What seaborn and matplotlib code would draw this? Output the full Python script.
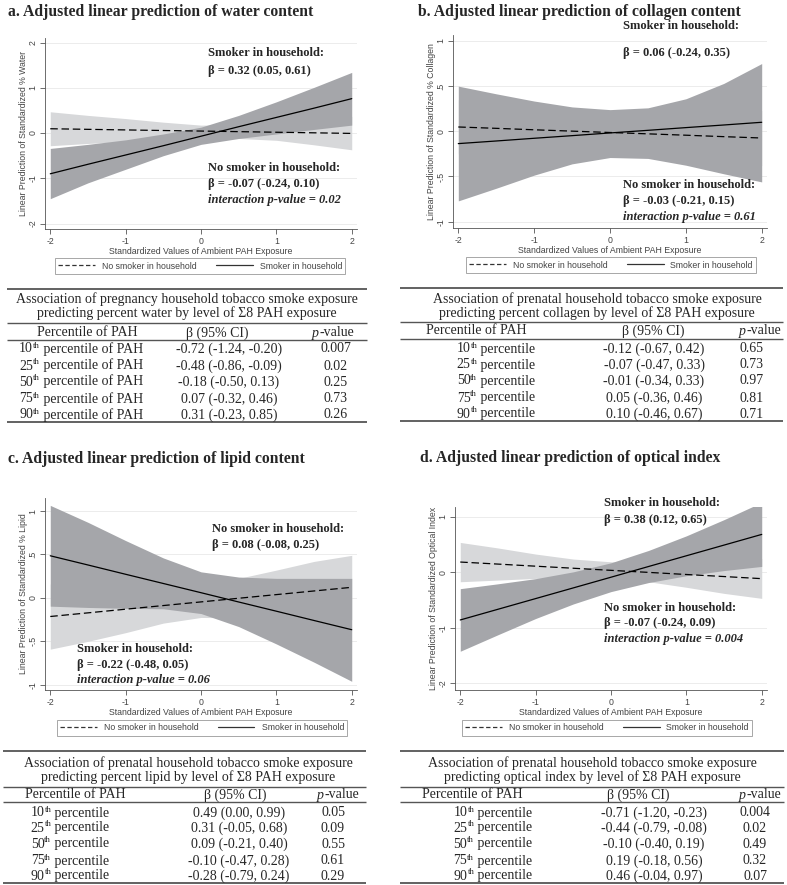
import matplotlib
matplotlib.use("Agg")
import pandas as pd
import matplotlib.pyplot as plt
from matplotlib.lines import Line2D
import seaborn as sns

sns.set_theme(style="ticks")
plt.rcParams["font.family"] = ["Liberation Serif", "DejaVu Serif"]

W, H = 787, 885

pah = [-2, -1.5, -1, -0.5, 0, 0.5, 1, 1.5, 2]

# a. water
water_nosmk = [0.095, 0.082, 0.069, 0.056, 0.044, 0.031, 0.018, 0.005, -0.008]
water_nosmk_lo = [-0.28, -0.23, -0.19, -0.14, -0.12, -0.12, -0.16, -0.26, -0.37]
water_nosmk_hi = [0.47, 0.39, 0.32, 0.24, 0.175, 0.18, 0.22, 0.29, 0.37]
water_smk = [-0.90, -0.69, -0.485, -0.28, -0.07, 0.14, 0.345, 0.55, 0.76]
water_smk_lo = [-1.45, -1.10, -0.80, -0.50, -0.25, -0.12, -0.02, 0.08, 0.175]
water_smk_hi = [-0.34, -0.25, -0.15, -0.02, 0.13, 0.39, 0.69, 1.01, 1.34]

# b. collagen
coll_nosmk = [0.048, 0.033, 0.017, 0.002, -0.013, -0.028, -0.043, -0.059, -0.074]
coll_nosmk_lo = [-0.25, -0.19, -0.15, -0.12, -0.11, -0.13, -0.19, -0.29, -0.38]
coll_nosmk_hi = [0.35, 0.26, 0.19, 0.12, 0.09, 0.07, 0.11, 0.17, 0.23]
coll_smk = [-0.136, -0.107, -0.077, -0.048, -0.018, 0.011, 0.041, 0.070, 0.10]
coll_smk_lo = [-0.77, -0.63, -0.485, -0.36, -0.29, -0.30, -0.375, -0.47, -0.56]
coll_smk_hi = [0.50, 0.415, 0.335, 0.27, 0.24, 0.26, 0.36, 0.53, 0.75]

# c. lipid
lip_nosmk = [-0.214, -0.172, -0.13, -0.088, -0.046, -0.004, 0.038, 0.08, 0.122]
lip_nosmk_lo = [-0.59, -0.50, -0.40, -0.29, -0.225, -0.23, -0.24, -0.26, -0.25]
lip_nosmk_hi = [0.16, 0.16, 0.14, 0.11, 0.13, 0.225, 0.32, 0.42, 0.49]
lip_smk = [0.485, 0.379, 0.272, 0.166, 0.06, -0.047, -0.153, -0.26, -0.366]
lip_smk_lo = [-0.095, -0.11, -0.12, -0.125, -0.18, -0.33, -0.53, -0.74, -0.96]
lip_smk_hi = [1.065, 0.87, 0.66, 0.46, 0.30, 0.24, 0.225, 0.225, 0.225]

# d. optical index
opt_nosmk = [0.186, 0.149, 0.111, 0.074, 0.036, -0.001, -0.039, -0.076, -0.114]
opt_nosmk_lo = [-0.17, -0.14, -0.11, -0.10, -0.11, -0.17, -0.27, -0.38, -0.47]
opt_nosmk_hi = [0.54, 0.44, 0.33, 0.24, 0.19, 0.17, 0.19, 0.22, 0.25]
opt_smk = [-0.86, -0.667, -0.474, -0.281, -0.088, 0.106, 0.299, 0.492, 0.685]
opt_smk_lo = [-1.425, -1.127, -0.834, -0.571, -0.348, -0.184, -0.061, 0.032, 0.107]
opt_smk_hi = [-0.295, -0.207, -0.114, 0.009, 0.172, 0.396, 0.659, 0.952, 1.263]

# tables
pct = ["10", "25", "50", "75", "90"]
water_beta = ["-0.72 (-1.24, -0.20)", "-0.48 (-0.86, -0.09)", "-0.18 (-0.50, 0.13)",
              "0.07 (-0.32, 0.46)", "0.31 (-0.23, 0.85)"]
water_p = ["0.007", "0.02", "0.25", "0.73", "0.26"]
coll_beta = ["-0.12 (-0.67, 0.42)", "-0.07 (-0.47, 0.33)", "-0.01 (-0.34, 0.33)",
             "0.05 (-0.36, 0.46)", "0.10 (-0.46, 0.67)"]
coll_p = ["0.65", "0.73", "0.97", "0.81", "0.71"]
lip_beta = ["0.49 (0.00, 0.99)", "0.31 (-0.05, 0.68)", "0.09 (-0.21, 0.40)",
            "-0.10 (-0.47, 0.28)", "-0.28 (-0.79, 0.24)"]
lip_p = ["0.05", "0.09", "0.55", "0.61", "0.29"]
opt_beta = ["-0.71 (-1.20, -0.23)", "-0.44 (-0.79, -0.08)", "-0.10 (-0.40, 0.19)",
            "0.19 (-0.18, 0.56)", "0.46 (-0.04, 0.97)"]
opt_p = ["0.004", "0.02", "0.49", "0.32", "0.07"]

NOSMK = "No smoker in household"
SMK = "Smoker in household"
DARK = "#a5a6aa"
LIGHT = "#d7d8da"
AXC = "#555555"
TXC = "#444444"
SANS = "Liberation Sans"
TFS = 10  # table font size


def fx(x):
    return x / W


def fy(y):
    return 1 - y / H


def draw_plot(fig, rect, nosmk, nosmk_lo, nosmk_hi, smk, smk_lo, smk_hi,
              ylim, yticks, ylabels, ylabel, notes, legend_xy):
    l, t, r, b = rect
    ax = fig.add_axes([fx(l), fy(b), (r - l) / W, (b - t) / H])
    df = pd.DataFrame({
        "pah": pah + pah,
        "pred": nosmk + smk,
        "group": [NOSMK] * len(pah) + [SMK] * len(pah),
    })
    ax.fill_between(pah, nosmk_lo, nosmk_hi, color=LIGHT, lw=0, zorder=1)
    ax.fill_between(pah, smk_lo, smk_hi, color=DARK, lw=0, zorder=2)
    sns.lineplot(data=df, x="pah", y="pred", style="group", style_order=[NOSMK, SMK],
                 dashes={NOSMK: (6, 3), SMK: ""}, color="black", lw=0.9,
                 legend=False, ax=ax, zorder=3)
    ax.set_xlim(-2.07, 2.07)
    ax.set_ylim(*ylim)
    ax.set_xticks([-2, -1, 0, 1, 2], ["-2", "-1", "0", "1", "2"],
                  fontfamily=SANS, fontsize=6.3, color=TXC)
    ax.set_yticks(yticks, ylabels, fontfamily=SANS, fontsize=6.3, color=TXC,
                  rotation=90, va="center")
    ax.yaxis.grid(True, color="#ececec", lw=0.7)
    ax.set_axisbelow(True)
    sns.despine(ax=ax)
    for s in ["left", "bottom"]:
        ax.spines[s].set_color(AXC)
        ax.spines[s].set_linewidth(0.6)
    ax.tick_params(direction="out", length=3.5, width=0.6, color=AXC, pad=2)
    ax.set_xlabel("Standardized Values of Ambient PAH Exposure", fontfamily=SANS,
                  fontsize=6.3, color=TXC, labelpad=1)
    ax.set_ylabel(ylabel, fontfamily=SANS, fontsize=6.3, color=TXC, labelpad=0.5)

    for x, y, s, it in notes:
        ax.text(x, y, s, fontsize=9, fontweight="bold", style="italic" if it else "normal",
                ha="left", va="center", clip_on=False, zorder=5)

    handles = [Line2D([], [], color="#333333", lw=0.9, dashes=(3.5, 2)),
               Line2D([], [], color="#333333", lw=0.9)]
    leg = ax.legend(handles, [NOSMK, SMK], loc="center",
                    bbox_to_anchor=(fx(legend_xy[0]), fy(legend_xy[1])),
                    bbox_transform=fig.transFigure, ncol=2, frameon=True, fancybox=False,
                    edgecolor="#999999", framealpha=1, prop={"family": SANS, "size": 6.3},
                    handlelength=4.2, handletextpad=0.8, columnspacing=2.2,
                    borderpad=0.35, labelcolor=TXC)
    leg.get_frame().set_linewidth(0.6)
    return ax


def centered_pieces(ov, rend, xc, y, pieces):
    # pieces: (text, fontsize, style, dy); laid out left to right, centred on xc
    texts = [ov.text(0, y + dy, s, fontsize=fs, style=st, ha="left", va="baseline")
             for s, fs, st, dy in pieces]
    widths = [t.get_window_extent(rend).width for t in texts]
    x = xc - sum(widths) / 2
    for t, w in zip(texts, widths):
        t.set_x(x)
        x += w


def draw_table(ov, rend, x0, x1, rules, head_x, head_ys, head_lines, colhead_y,
               colhead_x, row_ys, row_x, suffix, betas, pvals):
    bl = 4.5  # centre line -> baseline
    for i, y in enumerate(rules):
        lw = 1.3 if i in (0, len(rules) - 1) else 1.0
        ov.plot([x0, x1], [y, y], color="#555555", lw=lw, solid_capstyle="butt")
    for y, s in zip(head_ys, head_lines):
        ov.text(head_x, y + bl, s, fontsize=TFS, ha="center", va="baseline")
    ov.text(colhead_x[0], colhead_y + bl, "Percentile of PAH", fontsize=TFS,
            ha="center", va="baseline")
    ov.text(colhead_x[1], colhead_y + bl, "β (95% CI)", fontsize=TFS,
            ha="center", va="baseline")
    centered_pieces(ov, rend, colhead_x[2], colhead_y + bl,
                    [("p", TFS, "italic", 0), ("-value", TFS, "normal", 0)])
    for y, p, b, pv in zip(row_ys, pct, betas, pvals):
        centered_pieces(ov, rend, row_x[0], y + bl,
                        [(p, TFS, "normal", 0), ("th", 6.3, "normal", -5),
                         (" percentile" + suffix, TFS, "normal", 0)])
        ov.text(row_x[1], y + bl, b, fontsize=TFS, ha="center", va="baseline")
        ov.text(row_x[2], y + bl, pv, fontsize=TFS, ha="center", va="baseline")


fig = plt.figure(figsize=(W / 100, H / 100), dpi=100)
fig.patch.set_facecolor("white")
rend = fig.canvas.get_renderer()

draw_plot(fig, (45, 38, 357, 229), water_nosmk, water_nosmk_lo, water_nosmk_hi,
          water_smk, water_smk_lo, water_smk_hi, (-2.12, 2.10), [-2, -1, 0, 1, 2],
          ["-2", "-1", "0", "1", "2"], "Linear Prediction of Standardized % Water",
          [(0.09, 1.77, "Smoker in household:", False),
           (0.09, 1.37, "β = 0.32 (0.05, 0.61)", False),
           (0.09, -0.78, "No smoker in household:", False),
           (0.09, -1.13, "β = -0.07 (-0.24, 0.10)", False),
           (0.09, -1.48, "interaction p-value = 0.02", True)], (200, 266))

draw_plot(fig, (453, 35, 767, 228), coll_nosmk, coll_nosmk_lo, coll_nosmk_hi,
          coll_smk, coll_smk_lo, coll_smk_hi, (-1.07, 1.066), [-1, -0.5, 0, 0.5, 1],
          ["-1", "-.5", "0", ".5", "1"], "Linear Prediction of Standardized % Collagen",
          [(0.17, 1.17, "Smoker in household:", False),
           (0.17, 0.87, "β = 0.06 (-0.24, 0.35)", False),
           (0.17, -0.59, "No smoker in household:", False),
           (0.17, -0.77, "β = -0.03 (-0.21, 0.15)", False),
           (0.17, -0.95, "interaction p-value = 0.61", True)], (611, 265))

draw_plot(fig, (45, 498, 357, 690), lip_nosmk, lip_nosmk_lo, lip_nosmk_hi,
          lip_smk, lip_smk_lo, lip_smk_hi, (-1.06, 1.15), [-1, -0.5, 0, 0.5, 1],
          ["-1", "-.5", "0", ".5", "1"], "Linear Prediction of Standardized % Lipid",
          [(0.15, 0.79, "No smoker in household:", False),
           (0.15, 0.61, "β = 0.08 (-0.08, 0.25)", False),
           (-1.64, -0.59, "Smoker in household:", False),
           (-1.64, -0.77, "β = -0.22 (-0.48, 0.05)", False),
           (-1.64, -0.94, "interaction p-value = 0.06", True)], (202, 728))

draw_plot(fig, (455, 507, 767, 690), opt_nosmk, opt_nosmk_lo, opt_nosmk_hi,
          opt_smk, opt_smk_lo, opt_smk_hi, (-2.125, 1.18), [-2, -1, 0, 1],
          ["-2", "-1", "0", "1"], "Linear Prediction of Standardized Optical Index",
          [(-0.09, 1.26, "Smoker in household:", False),
           (-0.09, 0.95, "β = 0.38 (0.12, 0.65)", False),
           (-0.09, -0.64, "No smoker in household:", False),
           (-0.09, -0.91, "β = -0.07 (-0.24, 0.09)", False),
           (-0.09, -1.20, "interaction p-value = 0.004", True)], (607, 728))

# overlay in pixel coordinates for titles and tables
ov = fig.add_axes([0, 0, 1, 1])
ov.set_xlim(0, W)
ov.set_ylim(H, 0)
ov.axis("off")

ov.text(8, 12, "a. Adjusted linear prediction of water content", fontsize=11.3,
        fontweight="bold", ha="left", va="center")
ov.text(418, 12, "b. Adjusted linear prediction of collagen content", fontsize=11.3,
        fontweight="bold", ha="left", va="center")
ov.text(8, 459, "c. Adjusted linear prediction of lipid content", fontsize=11.3,
        fontweight="bold", ha="left", va="center")
ov.text(420, 458, "d. Adjusted linear prediction of optical index", fontsize=11.3,
        fontweight="bold", ha="left", va="center")

draw_table(ov, rend, 7, 367, [289, 323, 340, 422], 187, [299, 313],
           ["Association of pregnancy household tobacco smoke exposure",
            "predicting percent water by level of Σ8 PAH exposure"],
           332, [87, 217, 333], [348, 365, 381, 398, 414], [81, 229, 336],
           " of PAH", water_beta, water_p)
draw_table(ov, rend, 400, 783, [288, 322, 339, 421], 597, [298, 313],
           ["Association of prenatal household tobacco smoke exposure",
            "predicting percent collagen by level of Σ8 PAH exposure"],
           330, [476, 653, 760], [348, 364, 380, 397, 413], [496, 654, 752],
           "", coll_beta, coll_p)
draw_table(ov, rend, 3, 366, [751, 787, 802, 883], 188, [762, 777],
           ["Association of prenatal household tobacco smoke exposure",
            "predicting percent lipid by level of Σ8 PAH exposure"],
           794, [75, 235, 338], [812, 827, 843, 860, 875], [70, 239, 333],
           "", lip_beta, lip_p)
draw_table(ov, rend, 400, 784, [751, 787, 802, 883], 592, [762, 777],
           ["Association of prenatal household tobacco smoke exposure",
            "predicting optical index by level of Σ8 PAH exposure"],
           794, [472, 638, 760], [812, 827, 843, 860, 875], [493, 654, 755],
           "", opt_beta, opt_p)

fig.savefig("out.png", dpi=100)
